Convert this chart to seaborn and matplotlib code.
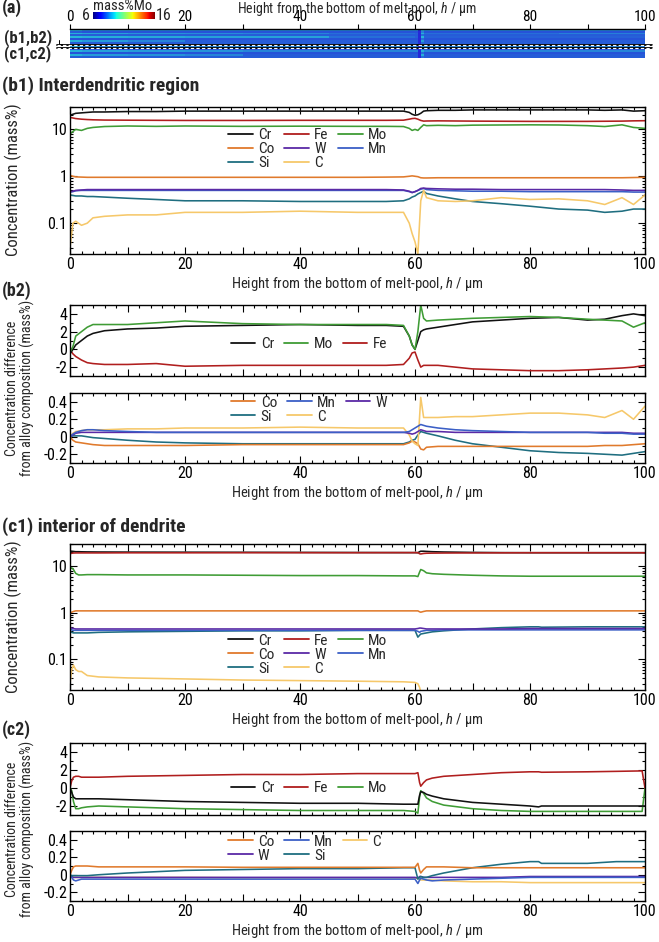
import numpy as np
import pandas as pd
import matplotlib
matplotlib.use("Agg")
import matplotlib.pyplot as plt
import seaborn as sns
from matplotlib.lines import Line2D
from matplotlib.ticker import MultipleLocator, FuncFormatter, LogLocator, NullFormatter
from matplotlib.colors import Normalize
import matplotlib.cm as cm

# ---------------- data ----------------
colors = {"Cr": "#111111", "Fe": "#b01e1e", "Mo": "#3f9c35", "Co": "#e07a2c",
          "W": "#5a2aa6", "Mn": "#3b5fc6", "Si": "#1f6e80", "C": "#f6c86a"}

# interdendritic region (b1, b2)
h_b = [0, 0.5, 1, 2, 3, 4, 6, 10, 15, 20, 30, 40, 50, 55, 58, 59, 59.5, 60, 60.5, 61,
       61.5, 62, 64, 67, 70, 75, 80, 85, 90, 93, 96, 98, 100]
Cr_b1 = [20, 21, 22, 22.5, 23, 23.5, 23.5, 24, 24, 24.5, 24.5, 24.5, 24.5, 24.5, 24.5, 23, 21, 20,
         20.5, 22, 24.5, 25, 25.5, 25.5, 26, 26, 26, 26, 26, 25.5, 26, 24.5, 25]
Fe_b1 = [18, 17.5, 17, 16.5, 16.2, 16, 15.8, 15.7, 15.6, 15.5, 15.5, 15.6, 15.6, 15.6, 15.7, 16.5,
         17, 17.2, 16.5, 15.5, 15, 15.1, 15.2, 15.1, 15.0, 14.9, 14.8, 14.8, 14.8, 14.9, 15.0, 15.2, 15.3]
Mo_b1 = [8, 9, 10, 9.5, 10.5, 11, 11.5, 11.8, 11.6, 11.8, 11.6, 11.7, 11.6, 11.6, 11.5, 10.5, 9.5,
         10, 9.5, 11, 12.5, 12, 12.2, 12, 12.3, 12.4, 12.5, 12.4, 12, 11.5, 12.5, 11, 10.5]
Co_b1 = [1.05, 1.0, 0.97, 0.96, 0.95, 0.95, 0.95, 0.95, 0.95, 0.95, 0.95, 0.95, 0.95, 0.96, 0.97,
         1.0, 1.02, 1.0, 0.98, 0.93, 0.92, 0.92, 0.93, 0.93, 0.93, 0.93, 0.93, 0.93, 0.93, 0.93, 0.93, 0.94, 0.95]
W_b1 = [0.47, 0.48, 0.5, 0.51, 0.52, 0.52, 0.52, 0.52, 0.52, 0.52, 0.52, 0.52, 0.52, 0.52, 0.51,
        0.48, 0.45, 0.47, 0.5, 0.55, 0.56, 0.55, 0.54, 0.53, 0.53, 0.52, 0.52, 0.52, 0.52, 0.52, 0.51, 0.5, 0.5]
Mn_b1 = [0.46, 0.47, 0.49, 0.5, 0.5, 0.5, 0.5, 0.5, 0.5, 0.5, 0.5, 0.5, 0.5, 0.5, 0.5, 0.47, 0.45,
         0.47, 0.5, 0.53, 0.55, 0.52, 0.5, 0.49, 0.48, 0.48, 0.47, 0.47, 0.47, 0.47, 0.47, 0.46, 0.46]
Si_b1 = [0.4, 0.39, 0.38, 0.38, 0.37, 0.37, 0.36, 0.34, 0.32, 0.3, 0.3, 0.29, 0.29, 0.29, 0.3, 0.33,
         0.36, 0.38, 0.42, 0.45, 0.48, 0.43, 0.38, 0.33, 0.29, 0.26, 0.23, 0.2, 0.19, 0.17, 0.18, 0.2, 0.2]
C_b1 = [0.03, 0.1, 0.11, 0.09, 0.1, 0.13, 0.14, 0.15, 0.15, 0.17, 0.17, 0.18, 0.17, 0.17, 0.17, 0.1,
        0.06, 0.04, 0.022, 0.3, 0.5, 0.35, 0.3, 0.29, 0.3, 0.35, 0.32, 0.33, 0.3, 0.25, 0.35, 0.25, 0.4]

Cr_b2 = [-0.5, 0, 0.5, 1.0, 1.5, 1.8, 2.1, 2.3, 2.4, 2.6, 2.7, 2.8, 2.7, 2.7, 2.6, 1.5, 0.5, 0, 1.0,
         2.0, 2.2, 2.3, 2.5, 2.8, 3.1, 3.3, 3.5, 3.6, 3.3, 3.4, 3.8, 4.0, 3.8]
Mo_b2 = [-0.3, 0.3, 1.5, 2.0, 2.5, 2.8, 2.8, 2.8, 3.0, 3.2, 2.9, 2.8, 2.8, 2.8, 2.7, 1.5, 0.5, 0,
         2.0, 5.0, 3.5, 3.2, 3.3, 3.4, 3.5, 3.6, 3.7, 3.6, 3.4, 3.3, 3.2, 2.5, 3.0]
Fe_b2 = [0, -0.5, -0.8, -1.2, -1.5, -1.6, -1.7, -1.7, -1.6, -1.9, -1.8, -1.8, -1.8, -1.8, -1.7,
         -1.0, -0.4, -0.3, -1.2, -2.0, -1.8, -1.8, -1.8, -2.0, -2.2, -2.3, -2.4, -2.4, -2.3, -2.2, -2.1, -2.0, -1.8]
Co_b2 = [0, -0.04, -0.06, -0.07, -0.08, -0.09, -0.1, -0.1, -0.1, -0.1, -0.09, -0.09, -0.09, -0.09,
         -0.09, -0.07, -0.05, -0.06, -0.08, -0.14, -0.15, -0.12, -0.11, -0.11, -0.11, -0.11, -0.11,
         -0.11, -0.11, -0.1, -0.1, -0.09, -0.08]
Mn_b2 = [0, 0.03, 0.05, 0.07, 0.08, 0.08, 0.07, 0.06, 0.05, 0.05, 0.05, 0.05, 0.05, 0.05, 0.05, 0.06,
         0.08, 0.1, 0.12, 0.14, 0.13, 0.12, 0.1, 0.08, 0.07, 0.06, 0.05, 0.05, 0.05, 0.04, 0.04, 0.03, 0.03]
W_b2 = [0, 0.02, 0.04, 0.05, 0.05, 0.05, 0.05, 0.05, 0.05, 0.05, 0.05, 0.05, 0.05, 0.05, 0.05, 0.04,
        0.03, 0.04, 0.06, 0.08, 0.07, 0.06, 0.06, 0.05, 0.05, 0.05, 0.05, 0.05, 0.05, 0.05, 0.05, 0.04, 0.04]
Si_b2 = [0, 0.01, 0.01, 0.01, 0.0, -0.01, -0.02, -0.04, -0.06, -0.07, -0.08, -0.08, -0.08, -0.08,
         -0.08, -0.06, -0.04, -0.03, 0.02, 0.06, 0.05, 0.04, 0.01, -0.04, -0.08, -0.12, -0.16, -0.18,
         -0.19, -0.2, -0.21, -0.19, -0.17]
C_b2 = [0, 0.04, 0.06, 0.07, 0.08, 0.08, 0.08, 0.09, 0.09, 0.1, 0.1, 0.11, 0.1, 0.1, 0.1, 0.02, -0.05,
        -0.08, -0.1, 0.45, 0.22, 0.22, 0.22, 0.23, 0.23, 0.25, 0.27, 0.27, 0.25, 0.22, 0.3, 0.2, 0.35]

# interior of dendrite (c1, c2)
h_c = [0, 0.3, 0.6, 1, 1.5, 2, 3, 5, 10, 20, 30, 40, 50, 58, 60, 60.5, 60.8, 61, 61.5, 62, 63, 65,
       70, 75, 80, 81.5, 82, 90, 95, 99.5, 100]
Cr_c1 = [21, 21, 20.8, 20.5, 20.5, 20.4, 20.3, 20.2, 20.1, 20.0, 19.9, 19.8, 19.7, 19.6, 19.6, 19.5,
         20.5, 21, 21, 20.8, 20.5, 20.2, 19.8, 19.6, 19.5, 19.5, 19.5, 19.5, 19.5, 19.5, 19.5]
Fe_c1 = [18.5, 19, 19.2, 19.3, 19.3, 19.3, 19.3, 19.3, 19.4, 19.4, 19.5, 19.5, 19.5, 19.6, 19.6, 19.6,
         18.5, 18.3, 18.8, 19, 19.1, 19.2, 19.3, 19.4, 19.5, 19.5, 19.5, 19.5, 19.5, 19.5, 19.3]
Mo_c1 = [9.0, 9.2, 8.5, 7, 6.5, 6.5, 6.6, 6.6, 6.5, 6.5, 6.4, 6.3, 6.3, 6.2, 6.2, 6.0, 7.5, 8.5, 8.0,
         7.2, 6.9, 6.7, 6.4, 6.2, 6.1, 6.1, 6.1, 6.1, 6.1, 6.1, 6.1]
Co_c1 = [1.0, 1.03, 1.07, 1.1, 1.1, 1.1, 1.1, 1.1, 1.1, 1.1, 1.1, 1.1, 1.1, 1.1, 1.1, 1.1, 1.05, 1.03,
         1.07, 1.1, 1.1, 1.1, 1.1, 1.1, 1.1, 1.1, 1.1, 1.1, 1.1, 1.1, 1.1]
W_c1 = [0.48, 0.47, 0.46, 0.45, 0.45, 0.45, 0.45, 0.45, 0.45, 0.45, 0.45, 0.45, 0.45, 0.45, 0.45,
        0.46, 0.47, 0.47, 0.46, 0.45, 0.45, 0.45, 0.45, 0.45, 0.46, 0.46, 0.46, 0.46, 0.46, 0.46, 0.46]
Mn_c1 = [0.45, 0.43, 0.42, 0.42, 0.42, 0.42, 0.42, 0.42, 0.42, 0.42, 0.42, 0.42, 0.42, 0.42, 0.42,
         0.4, 0.38, 0.4, 0.41, 0.42, 0.42, 0.43, 0.43, 0.43, 0.43, 0.43, 0.43, 0.43, 0.43, 0.43, 0.43]
Si_c1 = [0.4, 0.38, 0.37, 0.37, 0.37, 0.37, 0.37, 0.38, 0.39, 0.4, 0.41, 0.41, 0.42, 0.42, 0.42, 0.3,
         0.33, 0.35, 0.36, 0.37, 0.39, 0.41, 0.45, 0.48, 0.5, 0.5, 0.49, 0.5, 0.5, 0.5, 0.5]
C_c1 = [0.03, 0.06, 0.075, 0.06, 0.055, 0.055, 0.045, 0.042, 0.04, 0.038, 0.036, 0.035, 0.034, 0.033,
        0.032, 0.03, 0.025, 0.02, 0.01, 0.005, 0.005, 0.005, 0.005, 0.005, 0.005, 0.005, 0.005, 0.005,
        0.005, 0.005, 0.005]

Cr_c2 = [0, -0.5, -1.0, -1.2, -1.2, -1.2, -1.2, -1.2, -1.3, -1.5, -1.6, -1.7, -1.7, -1.8, -1.8, -1.8,
         -0.8, -0.4, -0.5, -0.7, -0.9, -1.2, -1.6, -1.8, -2.0, -2.1, -2.0, -2.0, -2.0, -2.0, -2.0]
Fe_c2 = [0, 0.8, 1.2, 1.3, 1.3, 1.2, 1.2, 1.2, 1.3, 1.4, 1.5, 1.5, 1.6, 1.6, 1.6, 1.7, 0.6, 0.2, 0.6,
         0.9, 1.1, 1.3, 1.5, 1.7, 1.8, 1.8, 1.75, 1.8, 1.85, 1.9, 0.0]
Mo_c2 = [0, -0.3, -1.5, -2.3, -2.3, -2.2, -2.1, -2.0, -2.1, -2.3, -2.4, -2.5, -2.5, -2.5, -2.6, -2.8,
         -1.0, -0.3, -0.6, -1.1, -1.5, -1.9, -2.3, -2.5, -2.6, -2.6, -2.6, -2.6, -2.6, -2.6, 0.0]
Co_c2 = [0, 0.05, 0.09, 0.1, 0.1, 0.1, 0.1, 0.09, 0.09, 0.09, 0.085, 0.085, 0.085, 0.085, 0.085, 0.13,
         0.05, 0.02, 0.06, 0.09, 0.09, 0.09, 0.08, 0.08, 0.08, 0.08, 0.08, 0.08, 0.08, 0.08, 0.08]
Mn_c2 = [0, -0.03, -0.06, -0.07, -0.06, -0.05, -0.05, -0.05, -0.05, -0.05, -0.05, -0.05, -0.05, -0.05,
         -0.05, -0.1, -0.06, -0.04, -0.05, -0.06, -0.07, -0.06, -0.05, -0.04, -0.03, -0.03, -0.03, -0.03,
         -0.03, -0.03, -0.03]
W_c2 = [-0.01, -0.02, -0.03, -0.03, -0.03, -0.03, -0.03, -0.03, -0.03, -0.03, -0.03, -0.03, -0.03, -0.03,
        -0.03, -0.04, -0.02, -0.02, -0.03, -0.03, -0.03, -0.03, -0.03, -0.03, -0.02, -0.02, -0.02, -0.02,
        -0.02, -0.02, -0.02]
Si_c2 = [0, -0.01, -0.01, -0.01, -0.01, -0.01, -0.01, 0.0, 0.02, 0.05, 0.06, 0.07, 0.07, 0.08, 0.08,
         -0.05, -0.03, -0.02, -0.03, -0.03, -0.01, 0.02, 0.08, 0.12, 0.15, 0.15, 0.13, 0.13, 0.15, 0.15, 0.15]
C_c2 = [-0.02, -0.02, -0.03, -0.03, -0.03, -0.03, -0.03, -0.03, -0.03, -0.03, -0.035, -0.035, -0.035,
        -0.035, -0.04, -0.04, -0.05, -0.06, -0.06, -0.06, -0.06, -0.07, -0.08, -0.08, -0.09, -0.09,
        -0.09, -0.09, -0.09, -0.09, -0.09]

# panel (a): Mo map (mass%) along height
map_h_edges = [0, 2, 10, 20, 30, 45, 60, 60.6, 61, 61.6, 70, 85, 100]
map_upper = [
    [9.0, 8.6, 8.6, 8.6, 8.6, 8.6, 8.6, 7.4, 9.0, 8.6, 8.6, 8.6],
    [8.0, 7.9, 7.9, 7.9, 7.9, 7.9, 7.9, 7.3, 8.5, 7.9, 7.9, 7.9],
    [9.2, 9.0, 8.8, 8.7, 8.6, 8.3, 8.1, 7.3, 9.2, 8.3, 8.3, 8.5],
    [8.0, 8.0, 8.0, 8.0, 8.0, 8.0, 8.0, 7.3, 8.3, 8.0, 8.0, 8.0],
    [9.3, 9.2, 9.1, 9.0, 9.0, 8.3, 8.1, 7.3, 9.3, 8.1, 8.1, 8.1],
    [7.9, 7.9, 7.9, 7.9, 7.9, 7.9, 7.9, 7.3, 8.3, 7.9, 7.9, 7.9],
    [9.2, 8.9, 8.6, 8.0, 8.0, 8.0, 8.0, 7.3, 9.0, 8.0, 8.0, 8.0],
    [8.0, 8.0, 8.0, 8.0, 8.0, 8.0, 8.0, 7.3, 8.3, 8.0, 8.0, 8.0],
]
map_lower = [
    [9.0, 8.6, 8.6, 8.6, 8.6, 8.6, 8.6, 7.3, 9.0, 8.6, 8.6, 8.6],
    [7.9, 7.9, 7.9, 7.9, 7.9, 7.9, 7.9, 7.3, 8.3, 7.9, 7.9, 7.9],
    [9.2, 9.0, 8.9, 8.8, 8.6, 8.6, 8.6, 7.3, 9.2, 8.6, 8.6, 8.6],
    [7.9, 7.9, 7.9, 7.9, 7.9, 7.9, 7.9, 7.3, 8.3, 7.9, 7.9, 7.9],
    [9.2, 8.9, 8.8, 8.6, 8.0, 8.0, 8.0, 7.3, 9.2, 8.0, 8.0, 8.0],
    [8.0, 8.0, 8.0, 8.0, 8.0, 8.0, 8.0, 7.3, 8.3, 8.0, 8.0, 8.0],
]
mo_range = [6, 16]

# ---------------- style ----------------
sns.set_theme(style="ticks")
FONTS = ["Roboto Condensed", "Liberation Sans Narrow", "Liberation Sans", "DejaVu Sans"]
plt.rcParams["font.family"] = FONTS
plt.rcParams["mathtext.fontset"] = "custom"
plt.rcParams["mathtext.it"] = "Roboto Condensed:italic"
plt.rcParams["mathtext.rm"] = "Roboto Condensed"
plt.rcParams["axes.unicode_minus"] = False
TFS = 11.5   # tick labels
XFS = 10.5   # axis labels
LFS = 11     # legend
XLABEL = "Height from the bottom of melt-pool, $h$ / µm"

W, H = 659, 942
fig = plt.figure(figsize=(W / 100, H / 100), dpi=100)


def box(x0, y0, x1, y1):
    return [x0 / W, 1 - y1 / H, (x1 - x0) / W, (y1 - y0) / H]


def long_df(h, series):
    rows = []
    for name, vals in series.items():
        rows.append(pd.DataFrame({"h": h, "value": vals, "element": name}))
    return pd.concat(rows, ignore_index=True)


def style_axes(ax, show_xlabels=True):
    ax.set_xlim(0, 100)
    ax.xaxis.set_major_locator(MultipleLocator(10))
    ax.xaxis.set_minor_locator(MultipleLocator(2))
    if show_xlabels:
        ax.xaxis.set_major_formatter(FuncFormatter(lambda v, p: f"{int(round(v))}" if round(v) % 20 == 0 else ""))
    else:
        ax.xaxis.set_major_formatter(NullFormatter())
    ax.tick_params(which="both", direction="in", top=True, right=True, width=0.8,
                   labelsize=TFS, pad=2, colors="black")
    ax.tick_params(which="major", length=5)
    ax.tick_params(which="minor", length=2.5)
    for s in ax.spines.values():
        s.set_linewidth(1.0)
        s.set_color("black")
    ax.set_xlabel("")
    ax.set_ylabel("")


def draw(ax, h, series):
    df = long_df(h, series)
    sns.lineplot(data=df, x="h", y="value", hue="element", hue_order=list(series.keys()),
                 palette=colors, estimator=None, sort=False, lw=1.15, legend=False, ax=ax)


def legend(ax, order_rows, ncol, anchor):
    cols = [[r[c] for r in order_rows if c < len(r)] for c in range(ncol)]
    names = [n for col in cols for n in col]
    handles = [Line2D([], [], color=colors[n], lw=1.3) for n in names]
    ax.legend(handles, names, ncol=ncol, loc="upper left", bbox_to_anchor=anchor,
              frameon=False, fontsize=LFS, handlelength=1.6, handletextpad=0.35,
              columnspacing=0.65, labelspacing=0.0, borderpad=0, borderaxespad=0)


def log_y(ax):
    ax.set_yscale("log")
    ax.set_ylim(0.022, 30)
    ax.yaxis.set_major_locator(LogLocator(base=10, numticks=10))
    ax.yaxis.set_minor_locator(LogLocator(base=10, subs=np.arange(2, 10), numticks=20))
    ax.yaxis.set_major_formatter(FuncFormatter(lambda v, p: f"{v:g}"))
    ax.yaxis.set_minor_formatter(NullFormatter())


def ylab2(yc):
    fig.text(20 / W, 1 - yc / H, "Concentration difference\nfrom alloy composition (mass%)",
             rotation=90, ha="center", va="center", fontsize=10, linespacing=1.05)


# ---------------- (a) strip ----------------
ax_a = fig.add_axes(box(70, 29, 645, 58))
ax_a.set_facecolor("#808080")
norm = Normalize(*mo_range)
yu = np.linspace(0.5, 1.0, len(map_upper) + 1)
yl = np.linspace(0.0, 0.4, len(map_lower) + 1)
ax_a.pcolormesh(map_h_edges, yu, np.array(map_upper)[::-1], cmap="jet", norm=norm,
                shading="flat", alpha=0.7, edgecolors="none")
ax_a.pcolormesh(map_h_edges, yl, np.array(map_lower)[::-1], cmap="jet", norm=norm,
                shading="flat", alpha=0.7, edgecolors="none")
ax_a.set_xlim(0, 100)
ax_a.set_ylim(0, 1)
ax_a.xaxis.tick_top()
ax_a.xaxis.set_major_locator(MultipleLocator(10))
ax_a.xaxis.set_major_formatter(FuncFormatter(lambda v, p: f"{int(round(v))}" if round(v) % 20 == 0 else ""))
ax_a.tick_params(axis="x", direction="out", length=3.5, width=0.8, labelsize=11, pad=0, colors="black")
ax_a.set_yticks([])
for k in ["left", "right", "bottom"]:
    ax_a.spines[k].set_visible(False)
ax_a.spines["top"].set_linewidth(1.0)
ax_a.spines["top"].set_color("black")
fig.text(357 / W, 1 - 0.5 / H, XLABEL, ha="center", va="top", fontsize=10)

# colorbar
cax = fig.add_axes(box(93, 12, 155, 19))
cb = fig.colorbar(cm.ScalarMappable(norm=norm, cmap="jet"), cax=cax, orientation="horizontal")
cb.set_ticks([])
cb.outline.set_visible(False)
fig.text(123 / W, 1 - 6 / H, "mass%Mo", ha="center", va="center", fontsize=XFS)
fig.text(86 / W, 1 - 15 / H, "6", ha="center", va="center", fontsize=TFS)
fig.text(164 / W, 1 - 15 / H, "16", ha="center", va="center", fontsize=TFS)

fig.text(2 / W, 1 - 8 / H, "(a)", ha="left", va="center", fontsize=13, fontweight="bold")
fig.text(4 / W, 1 - 38 / H, "(b1,b2)", ha="left", va="center", fontsize=12, fontweight="bold")
fig.text(4 / W, 1 - 54 / H, "(c1,c2)", ha="left", va="center", fontsize=12, fontweight="bold")
fig.add_artist(Line2D([59 / W, 59 / W, 62 / W], [1 - 40 / H, 1 - 44 / H, 1 - 44 / H],
                      color="black", lw=0.7))
for yy in (44.5, 47.5):
    fig.add_artist(Line2D([57 / W, 652 / W], [1 - yy / H, 1 - yy / H], color="black", lw=1.3))
    fig.add_artist(Line2D([57 / W, 652 / W], [1 - yy / H, 1 - yy / H], color="white", lw=0.8,
                          linestyle=(0, (3, 2))))

# ---------------- (b1) ----------------
ax_b1 = fig.add_axes(box(70, 107, 645, 254))
draw(ax_b1, h_b, {"Si": Si_b1, "C": C_b1, "Mn": Mn_b1, "W": W_b1, "Co": Co_b1,
                  "Mo": Mo_b1, "Fe": Fe_b1, "Cr": Cr_b1})
log_y(ax_b1)
style_axes(ax_b1)
ax_b1.set_xlabel(XLABEL, fontsize=XFS, labelpad=2)
legend(ax_b1, [["Cr", "Fe", "Mo"], ["Co", "W", "Mn"], ["Si", "C"]], 3, (0.275, 0.855))
fig.text(2 / W, 1 - 86 / H, "(b1) Interdendritic region", ha="left", va="center",
         fontsize=14, fontweight="bold")
fig.text(13 / W, 1 - 180 / H, "Concentration (mass%)", rotation=90, ha="center", va="center", fontsize=12)

# ---------------- (b2) ----------------
ax_b2u = fig.add_axes(box(70, 305, 645, 376))
draw(ax_b2u, h_b, {"Fe": Fe_b2, "Cr": Cr_b2, "Mo": Mo_b2})
ax_b2u.set_ylim(-3, 5)
ax_b2u.set_yticks([-2, 0, 2, 4])
ax_b2u.yaxis.set_minor_locator(MultipleLocator(1))
style_axes(ax_b2u, show_xlabels=False)
legend(ax_b2u, [["Cr", "Mo", "Fe"]], 3, (0.28, 0.55))

ax_b2l = fig.add_axes(box(70, 393, 645, 463))
draw(ax_b2l, h_b, {"Si": Si_b2, "Co": Co_b2, "C": C_b2, "W": W_b2, "Mn": Mn_b2})
ax_b2l.set_ylim(-0.3, 0.5)
ax_b2l.set_yticks([-0.2, 0, 0.2, 0.4])
ax_b2l.yaxis.set_major_formatter(FuncFormatter(lambda v, p: f"{v:g}"))
ax_b2l.yaxis.set_minor_locator(MultipleLocator(0.1))
style_axes(ax_b2l)
ax_b2l.set_xlabel(XLABEL, fontsize=XFS, labelpad=2)
legend(ax_b2l, [["Co", "Mn", "W"], ["Si", "C"]], 3, (0.28, 0.96))
fig.text(2 / W, 1 - 291 / H, "(b2)", ha="left", va="center", fontsize=13, fontweight="bold")
ylab2(388)

# ---------------- (c1) ----------------
ax_c1 = fig.add_axes(box(70, 544, 645, 690))
draw(ax_c1, h_c, {"Si": Si_c1, "C": C_c1, "Mn": Mn_c1, "W": W_c1, "Co": Co_c1,
                  "Mo": Mo_c1, "Cr": Cr_c1, "Fe": Fe_c1})
log_y(ax_c1)
style_axes(ax_c1)
ax_c1.set_xlabel(XLABEL, fontsize=XFS, labelpad=2)
legend(ax_c1, [["Cr", "Fe", "Mo"], ["Co", "W", "Mn"], ["Si", "C"]], 3, (0.275, 0.385))
fig.text(2 / W, 1 - 527 / H, "(c1) interior of dendrite", ha="left", va="center",
         fontsize=14, fontweight="bold")
fig.text(13 / W, 1 - 617 / H, "Concentration (mass%)", rotation=90, ha="center", va="center", fontsize=12)

# ---------------- (c2) ----------------
ax_c2u = fig.add_axes(box(70, 743, 645, 815))
draw(ax_c2u, h_c, {"Mo": Mo_c2, "Cr": Cr_c2, "Fe": Fe_c2})
ax_c2u.set_ylim(-3, 5)
ax_c2u.set_yticks([-2, 0, 2, 4])
ax_c2u.yaxis.set_minor_locator(MultipleLocator(1))
style_axes(ax_c2u, show_xlabels=False)
legend(ax_c2u, [["Cr", "Fe", "Mo"]], 3, (0.28, 0.47))

ax_c2l = fig.add_axes(box(70, 831, 645, 901))
draw(ax_c2l, h_c, {"C": C_c2, "W": W_c2, "Mn": Mn_c2, "Si": Si_c2, "Co": Co_c2})
ax_c2l.set_ylim(-0.3, 0.5)
ax_c2l.set_yticks([-0.2, 0, 0.2, 0.4])
ax_c2l.yaxis.set_major_formatter(FuncFormatter(lambda v, p: f"{v:g}"))
ax_c2l.yaxis.set_minor_locator(MultipleLocator(0.1))
style_axes(ax_c2l)
ax_c2l.set_xlabel(XLABEL, fontsize=XFS, labelpad=2)
legend(ax_c2l, [["Co", "Mn", "C"], ["W", "Si"]], 3, (0.275, 0.95))
fig.text(2 / W, 1 - 730 / H, "(c2)", ha="left", va="center", fontsize=13, fontweight="bold")
ylab2(829)

fig.savefig("out.png", dpi=100)
